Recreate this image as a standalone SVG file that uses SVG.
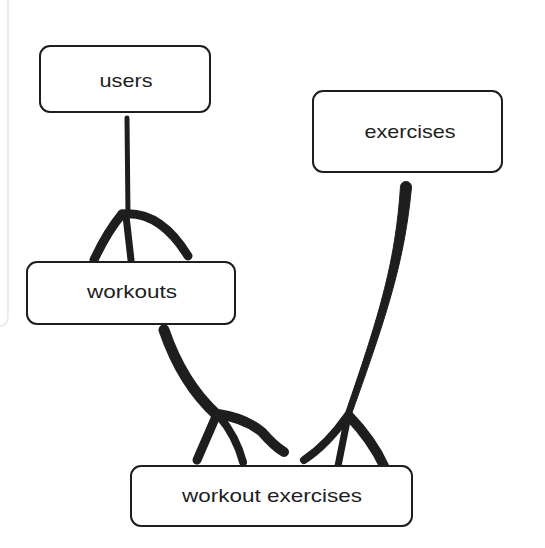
<svg xmlns="http://www.w3.org/2000/svg" width="545" height="548" viewBox="0 0 545 548">
<style>
.box{fill:#ffffff;stroke:#1e1e1e;stroke-width:2}
.lbl{font-family:"Liberation Sans",Arial,sans-serif;font-size:19px;fill:#1e1e1e;text-anchor:middle}
.c{fill:none;stroke:#1e1e1e;stroke-linecap:round;stroke-linejoin:round}
.f{fill:#1e1e1e;stroke:#1e1e1e;stroke-width:1;stroke-linejoin:round}
</style>
<rect width="545" height="548" fill="#ffffff"/>
<path d="M8,0 V316 Q8,326 0,326" fill="none" stroke="#e6e6e6" stroke-width="1.5"/>
<g id="connectors">
  <g id="users-workouts">
    <path class="c" d="M127,118 L128,216" stroke-width="5"/>
    <path class="c" d="M122,214 Q107,232 94,260" stroke-width="9"/>
    <path class="c" d="M122,214 Q160,210 188,256" stroke-width="9"/>
    <path class="c" d="M126,216 L131,260" stroke-width="7"/>
  </g>
  <g id="workouts-workoutexercises">
    <path class="c" d="M164,330 C176,365 195,395 217,415" stroke-width="11"/>
    <path class="c" d="M217,414 L197,460" stroke-width="9"/>
    <path class="c" d="M219,416 Q236,436 243,462" stroke-width="8"/>
    <path class="c" d="M218,414 Q245,418 262,432 Q274,446 284,452" stroke-width="10"/>
  </g>
  <g id="exercises-workoutexercises">
    <path class="f" d="M400.5,186.6 A5.5,5.5 0 0 1 411.5,187.4 C404.5,260 388.5,311 350.8,416 L345.2,414 C381.5,309 395.5,260 400.5,186.6 Z"/>
    <path class="c" d="M348,415 Q327,445 304,460" stroke-width="8"/>
    <path class="c" d="M348,416 L338,466" stroke-width="7"/>
    <path class="c" d="M349,416 Q372,440 384,466" stroke-width="10"/>
  </g>
</g>
<g id="users">
  <rect class="box" x="40" y="46" width="170" height="66" rx="10"/>
  <text class="lbl" x="126" y="87" textLength="53" lengthAdjust="spacingAndGlyphs">users</text>
</g>
<g id="exercises">
  <rect class="box" x="313" y="91" width="189" height="81" rx="10"/>
  <text class="lbl" x="410" y="138" textLength="91" lengthAdjust="spacingAndGlyphs">exercises</text>
</g>
<g id="workouts">
  <rect class="box" x="27" y="262" width="208" height="62" rx="10"/>
  <text class="lbl" x="132" y="298" textLength="90" lengthAdjust="spacingAndGlyphs">workouts</text>
</g>
<g id="workout-exercises">
  <rect class="box" x="131" y="466" width="281" height="60" rx="10"/>
  <text class="lbl" x="272" y="502" textLength="180" lengthAdjust="spacingAndGlyphs">workout exercises</text>
</g>
</svg>
